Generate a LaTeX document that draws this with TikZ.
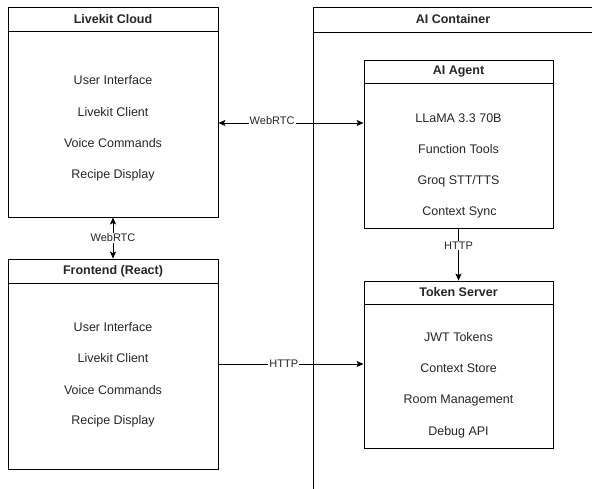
\documentclass[tikz,border=0pt]{standalone}
\usepackage{fontspec}
\setmainfont{Liberation Sans}
\usetikzlibrary{arrows.meta}
\tikzset{
  x=1pt,y=-1pt,
  box/.style={draw=black,line width=0.9pt,fill=white,inner sep=0pt},
  hdr/.style={draw=black,line width=0.9pt},
  ttl/.style={font=\fontsize{12.5}{15}\selectfont\bfseries,text=black!85},
  itm/.style={font=\fontsize{12.5}{15}\selectfont,text=black!85},
  lbl/.style={font=\fontsize{11}{13}\selectfont,fill=white,inner sep=1pt,text=black!85},
  conn/.style={line width=0.9pt,-{Stealth[length=7pt,width=6pt,inset=1.5pt]}},
  conn2/.style={line width=0.9pt,{Stealth[length=7pt,width=6pt,inset=1.5pt]}-{Stealth[length=7pt,width=6pt,inset=1.5pt]}},
}
\begin{document}
\begin{tikzpicture}
\useasboundingbox (0,0) rectangle (592,488);
\clip (0,0) rectangle (592,488);
\fill[white] (0,0) rectangle (592,488);
% AI Container
\node[box,minimum width=287pt,minimum height=513pt] (aic) at (456.5,263.5) {};
\draw[hdr] (313,32) -- (600,32);
\node[ttl] (aict) at (453,19.5) {AI Container};
% Livekit Cloud
\node[box,minimum width=210pt,minimum height=210pt] (lc) at (113,112) {};
\draw[hdr] ([yshift=-25pt]lc.north west) -- ([yshift=-25pt]lc.north east);
\node[ttl] (lct) at (113,19.5) {Livekit Cloud};
\node[itm] (lc1) at (113,80) {User Interface};
\node[itm] (lc2) at (113,112) {Livekit Client};
\node[itm] (lc3) at (113,143.5) {Voice Commands};
\node[itm] (lc4) at (113,175) {Recipe Display};
% Frontend
\node[box,minimum width=210pt,minimum height=210pt] (fe) at (113,364) {};
\draw[hdr] ([yshift=-24.5pt]fe.north west) -- ([yshift=-24.5pt]fe.north east);
\node[ttl] (fet) at (113,271) {Frontend (React)};
\node[itm] (fe1) at (113,327) {User Interface};
\node[itm] (fe2) at (113,358.5) {Livekit Client};
\node[itm] (fe3) at (113,390) {Voice Commands};
\node[itm] (fe4) at (113,421.5) {Recipe Display};
% AI Agent
\node[box,minimum width=189pt,minimum height=168pt] (ag) at (458.5,144) {};
\draw[hdr] ([yshift=-24pt]ag.north west) -- ([yshift=-24pt]ag.north east);
\node[ttl] (agt) at (458.5,72) {AI Agent};
\node[itm] (ag1) at (458.5,118) {LLaMA 3.3 70B};
\node[itm] (ag2) at (458.5,149.5) {Function Tools};
\node[itm] (ag3) at (458.5,181) {Groq STT/TTS};
\node[itm] (ag4) at (459.5,212) {Context Sync};
% Token Server
\node[box,minimum width=189pt,minimum height=167pt] (ts) at (458.5,364.5) {};
\draw[hdr] ([yshift=-23.5pt]ts.north west) -- ([yshift=-23.5pt]ts.north east);
\node[ttl] (tst) at (458.5,292.5) {Token Server};
\node[itm] (ts1) at (458.5,337) {JWT Tokens};
\node[itm] (ts2) at (458.5,368.5) {Context Store};
\node[itm] (ts3) at (458.5,400) {Room Management};
\node[itm] (ts4) at (458.5,432) {Debug API};
% Connectors
\draw[conn2] ([yshift=-11pt]lc.east) -- node[lbl,pos=0.37,yshift=2.5pt] {WebRTC} ([yshift=-11pt]lc.east -| ag.west);
\draw[conn2] (lc.south) -- node[lbl,pos=0.5] {WebRTC} (fe.north);
\draw[conn] (ag.south) -- node[lbl,pos=0.33] {HTTP} (ts.north);
\draw[conn] (fe.east) -- node[lbl,pos=0.45] {HTTP} (fe.east -| ts.west);
\end{tikzpicture}
\end{document}
